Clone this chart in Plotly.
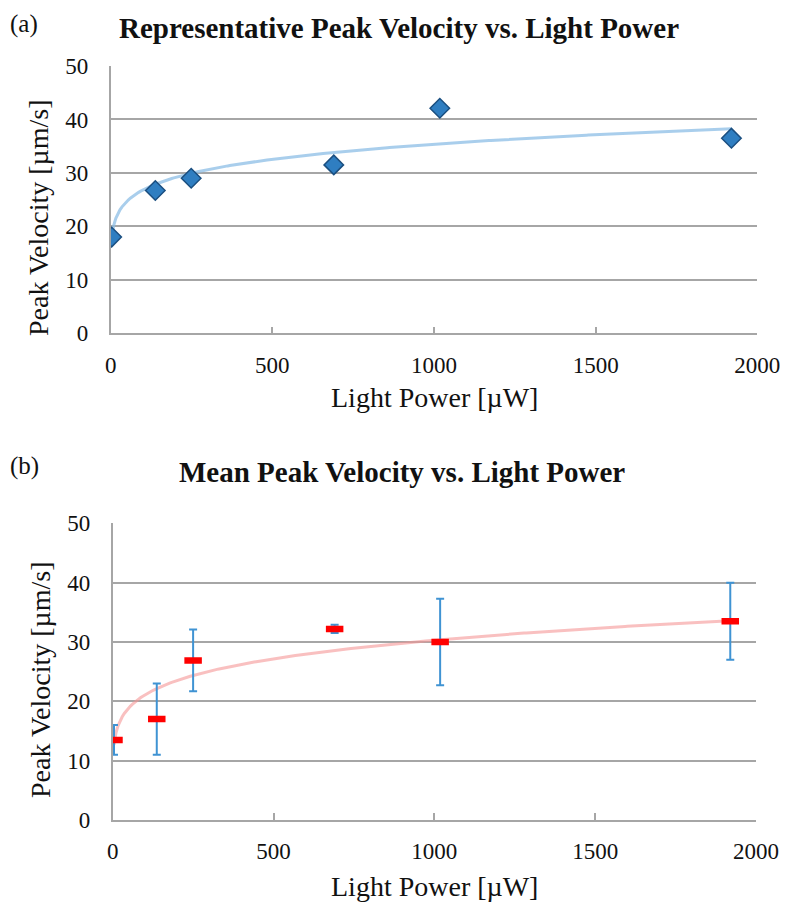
import numpy as np
import plotly.graph_objects as go

# ---- data ----
power_a = [3, 138, 249, 690, 1018, 1920]
velocity_a = [18.0, 26.7, 29.0, 31.5, 42.1, 36.5]

power_b = [4, 137, 250, 690, 1018, 1920]
velocity_b = [13.5, 17.0, 26.9, 32.2, 30.0, 33.5]
error_b = [2.5, 6.0, 5.2, 0.7, 7.3, 6.5]

x_ticks = [0, 500, 1000, 1500, 2000]
y_ticks = [0, 10, 20, 30, 40, 50]

title_a = "Representative Peak Velocity vs. Light Power"
title_b = "Mean Peak Velocity vs. Light Power"
x_title = "Light Power [µW]"
y_title = "Peak Velocity [µm/s]"


def power_fit(x, y):
    x = np.asarray(x, float)
    y = np.asarray(y, float)
    b, lna = np.polyfit(np.log(x), np.log(y), 1)
    xs = np.linspace(x.min(), x.max(), 300)
    return xs, np.exp(lna) * xs ** b


W, H = 785, 902
FONT = "Liberation Serif"
GRID = "#a6a6a6"
TXT = "#111"

fig = go.Figure()

fx, fy = power_fit(power_a, velocity_a)
fig.add_trace(go.Scatter(x=fx, y=fy, mode="lines", xaxis="x", yaxis="y",
                         line=dict(color="rgba(140,190,230,0.75)", width=3),
                         hoverinfo="skip", showlegend=False))
fig.add_trace(go.Scatter(x=power_a, y=velocity_a, mode="markers", xaxis="x", yaxis="y",
                         marker=dict(symbol="diamond", size=15, color="#2f7ec1",
                                     line=dict(color="#1b4f80", width=1.5)),
                         showlegend=False))

gx, gy = power_fit(power_b, velocity_b)
fig.add_trace(go.Scatter(x=gx, y=gy, mode="lines", xaxis="x2", yaxis="y2",
                         line=dict(color="rgba(245,150,150,0.6)", width=3),
                         hoverinfo="skip", showlegend=False))
fig.add_trace(go.Scatter(x=power_b, y=velocity_b, mode="markers", xaxis="x2", yaxis="y2",
                         error_y=dict(type="data", array=error_b, color="#3f93d3",
                                      thickness=2, width=4),
                         marker=dict(symbol="line-ew", size=12.5, color="red",
                                     line=dict(color="red", width=6.5)),
                         showlegend=False))


def xaxis(domain, anchor):
    return dict(domain=domain, anchor=anchor, range=[0, 2000], tickvals=x_ticks,
                automargin=False,
                showgrid=False, zeroline=False, showline=True, linecolor=GRID,
                linewidth=1.5, ticks="inside", ticklen=7, tickcolor=GRID, tickwidth=1.5,
                tickfont=dict(family=FONT, size=23, color=TXT),
                ticklabelstandoff=10)


def yaxis(domain, anchor):
    return dict(domain=domain, anchor=anchor, range=[0, 50], tickvals=y_ticks,
                automargin=False,
                showgrid=True, gridcolor=GRID, gridwidth=1.5, zeroline=False,
                showline=True, linecolor=GRID, linewidth=1.5, ticks="",
                tickfont=dict(family=FONT, size=23, color=TXT),
                ticklabelstandoff=16)


def ann(text, x, y, size, **kw):
    d = dict(text=text, x=x / W, y=1 - y / H, xref="paper", yref="paper",
             xanchor="center", yanchor="middle",
             showarrow=False, font=dict(family=FONT, size=size, color=TXT))
    d.update(kw)
    return d


fig.update_layout(
    width=W, height=H, margin=dict(l=0, r=0, t=0, b=0, autoexpand=False),
    paper_bgcolor="white", plot_bgcolor="white",
    xaxis=xaxis([110.7 / W, 757.3 / W], "y"),
    yaxis=yaxis([1 - 333.3 / H, 1 - 66 / H], "x"),
    xaxis2=xaxis([112.7 / W, 756 / W], "y2"),
    yaxis2=yaxis([1 - 820 / H, 1 - 523.3 / H], "x2"),
    annotations=[
        ann("<b>" + title_a + "</b>", 399, 28, 29),
        ann("<b>" + title_b + "</b>", 402, 472, 29),
        ann("(a)", 8, 24, 25, xanchor="left"),
        ann("(b)", 8, 466, 25, xanchor="left"),
        ann(x_title, 434, 398, 28),
        ann(x_title, 434, 886, 28),
        ann(y_title, 38, 218, 28, textangle=-90),
        ann(y_title, 40, 680, 28, textangle=-90),
    ],
)

fig.write_html("out.html")
